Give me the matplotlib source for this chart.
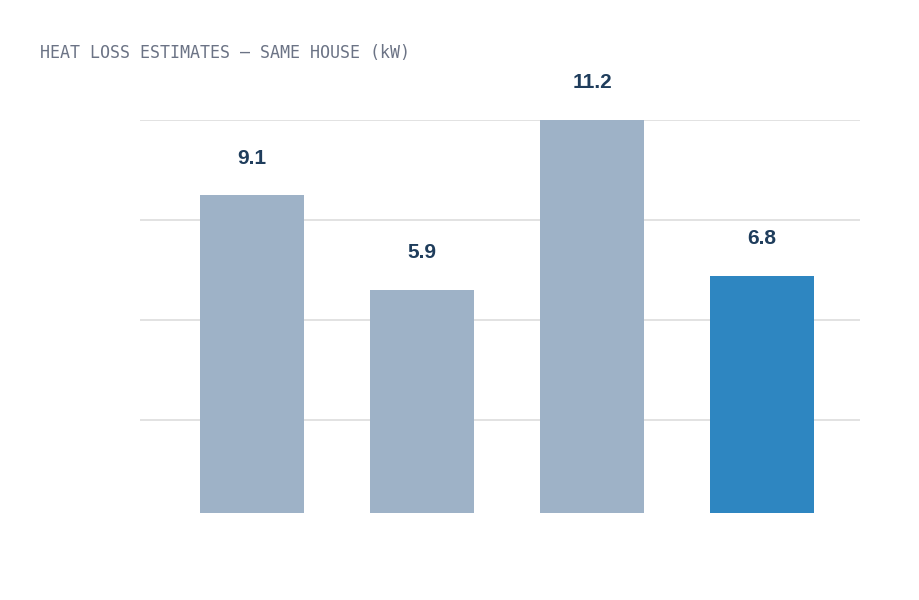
import matplotlib
matplotlib.use("Agg")
import matplotlib.pyplot as plt

categories = ["A", "B", "C", "D"]
bar_heights = [9.05, 6.35, 11.2, 6.75]
value_labels = ["9.1", "5.9", "11.2", "6.8"]
colors = ["#9eb2c7", "#9eb2c7", "#9eb2c7", "#2e86c1"]
grid_vals = [2.65, 5.5, 8.35, 11.2]

fig = plt.figure(figsize=(9.2, 6.0), dpi=100)
ax = fig.add_axes([140/920, 87/600, 720/920, 393/600])
x = list(range(len(categories)))
ax.bar(x, bar_heights, width=0.612, color=colors, zorder=2)
ax.set_xlim(-0.659, 3.576)
ax.set_ylim(0, 11.2)
ax.set_yticks(grid_vals)
ax.yaxis.grid(True, color="#dddddd", linewidth=1.2, zorder=0)
ax.tick_params(left=False, bottom=False, labelleft=False, labelbottom=False)
for s in ax.spines.values():
    s.set_visible(False)
for xi, h, lab in zip(x, bar_heights, value_labels):
    ax.annotate(lab, (xi, h), xytext=(0, 20), textcoords="offset points",
                ha="center", va="bottom", fontsize=15, fontweight="bold",
                color="#1f3d5c", family="Liberation Sans", annotation_clip=False)
fig.text(40/920, 1-53/600, "HEAT LOSS ESTIMATES — SAME HOUSE (kW)", family="DejaVu Sans Mono",
         fontsize=12, color="#6b7385", va="center", ha="left")
fig.savefig("out.png", dpi=100, facecolor="white")
